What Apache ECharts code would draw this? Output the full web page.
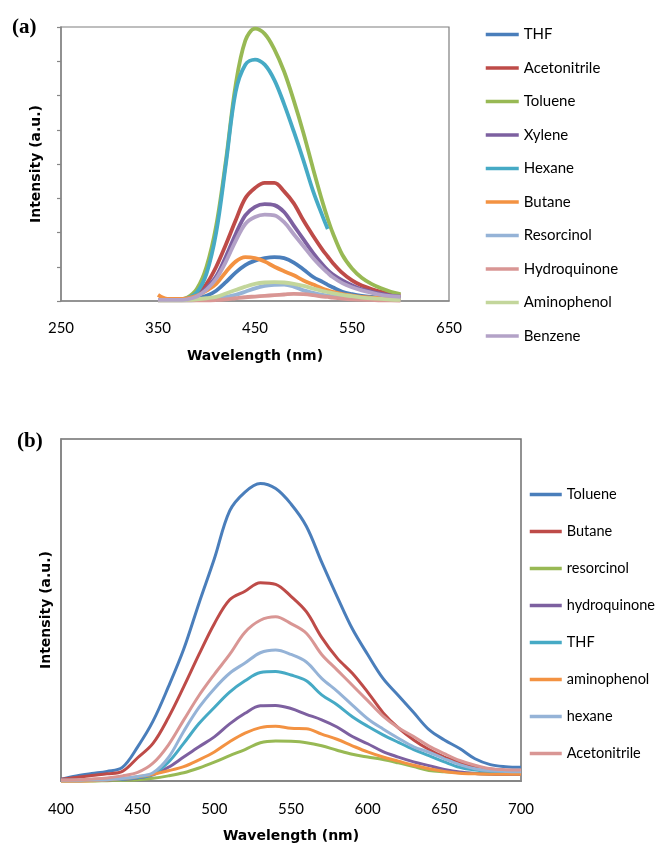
<!DOCTYPE html>
<html>
<head>
<meta charset="utf-8">
<script src="https://cdn.jsdelivr.net/npm/echarts@6/dist/echarts.min.js"></script>
<style>
  html, body { margin: 0; padding: 0; background: #fff; }
  #chart { width: 656px; height: 845px; }
</style>
</head>
<body>
<div id="chart"></div>
<script>
// ---------- Panel (a): emission spectra, 350-600 nm ----------
const waveA = [350, 360, 370, 380, 390, 400, 410, 420, 430, 440, 450, 460, 470, 480, 490, 500, 510, 520, 525, 530, 540, 550, 560, 570, 580, 590, 600];
const namesA = ['THF', 'Acetonitrile', 'Toluene', 'Xylene', 'Hexane', 'Butane', 'Resorcinol', 'Hydroquinone', 'Aminophenol', 'Benzene'];
const thfA = [0.03, 0.03, 0.03, 0.04, 0.08, 0.15, 0.3, 0.55, 0.83, 1.05, 1.18, 1.25, 1.28, 1.25, 1.12, 0.92, 0.7, 0.55, 0.47, 0.4, 0.27, 0.2, 0.15, 0.12, 0.1, 0.09, 0.08];
const acetonitrileA = [0.03, 0.03, 0.03, 0.06, 0.18, 0.5, 1.0, 1.65, 2.35, 3.0, 3.3, 3.45, 3.45, 3.2, 2.85, 2.35, 1.9, 1.48, 1.3, 1.12, 0.82, 0.6, 0.45, 0.35, 0.27, 0.21, 0.17];
const tolueneA = [0.03, 0.03, 0.04, 0.1, 0.35, 1.0, 2.2, 4.1, 6.3, 7.6, 7.95, 7.8, 7.35, 6.7, 5.85, 4.9, 3.85, 2.85, 2.4, 2.0, 1.35, 0.95, 0.68, 0.5, 0.37, 0.27, 0.2];
const xyleneA = [0.03, 0.03, 0.03, 0.05, 0.15, 0.38, 0.72, 1.3, 1.95, 2.5, 2.75, 2.83, 2.8, 2.6, 2.2, 1.8, 1.4, 1.05, 0.9, 0.78, 0.6, 0.46, 0.34, 0.27, 0.21, 0.16, 0.13];
const hexaneA = [0.03, 0.03, 0.04, 0.08, 0.25, 0.8, 2.0, 4.0, 6.1, 6.9, 7.05, 6.9, 6.45, 5.75, 4.95, 4.1, 3.2, 2.45, 2.1, null, null, null, null, null, null, null, null];
const butaneA = [0.18, 0.06, 0.06, 0.08, 0.15, 0.3, 0.5, 0.85, 1.15, 1.28, 1.25, 1.15, 1.0, 0.87, 0.75, 0.6, 0.48, 0.36, 0.31, 0.27, 0.2, 0.16, 0.12, 0.1, 0.08, 0.06, 0.05];
const resorcinolA = [0.02, 0.02, 0.02, 0.02, 0.03, 0.05, 0.08, 0.12, 0.18, 0.27, 0.37, 0.44, 0.47, 0.48, 0.42, 0.31, 0.24, 0.18, 0.16, 0.14, 0.12, 0.09, 0.07, 0.05, 0.04, 0.03, 0.03];
const hydroquinoneA = [0.02, 0.02, 0.02, 0.02, 0.02, 0.02, 0.03, 0.05, 0.08, 0.11, 0.13, 0.15, 0.17, 0.19, 0.21, 0.2, 0.17, 0.13, 0.12, 0.1, 0.07, 0.05, 0.04, 0.03, 0.02, 0.02, 0.01];
const aminophenolA = [0.02, 0.02, 0.02, 0.03, 0.05, 0.08, 0.12, 0.22, 0.32, 0.42, 0.5, 0.54, 0.55, 0.54, 0.5, 0.44, 0.36, 0.29, 0.26, 0.23, 0.18, 0.14, 0.1, 0.08, 0.06, 0.04, 0.03];
const benzeneA = [0.03, 0.03, 0.03, 0.05, 0.13, 0.33, 0.65, 1.15, 1.75, 2.25, 2.45, 2.52, 2.5, 2.3, 1.95, 1.6, 1.25, 0.95, 0.82, 0.7, 0.52, 0.4, 0.31, 0.24, 0.18, 0.14, 0.12];
const valuesA = [thfA, acetonitrileA, tolueneA, xyleneA, hexaneA, butaneA, resorcinolA, hydroquinoneA, aminophenolA, benzeneA];
const ticksA = [250, 350, 450, 550, 650];

// ---------- Panel (b): emission spectra, 400-700 nm ----------
const waveB = [400, 410, 420, 430, 440, 450, 460, 470, 480, 490, 500, 510, 520, 530, 540, 550, 560, 570, 580, 590, 600, 610, 620, 630, 640, 650, 660, 670, 680, 690, 700];
const namesB = ['Toluene', 'Butane', 'resorcinol', 'hydroquinone', 'THF', 'aminophenol', 'hexane', 'Acetonitrile'];
const tolueneB = [0.5, 1.5, 2.2, 2.8, 4.0, 10.0, 17.5, 27.5, 38.5, 52, 65, 79, 84.5, 87, 85.5, 81, 74.5, 64, 54, 44.5, 37, 30, 25, 20, 15, 12, 9.5, 6.5, 4.8, 4.2, 4.0];
const butaneB = [0.5, 1.0, 1.6, 2.1, 2.8, 6.8, 11, 18.5, 27.5, 37, 46, 53, 55.5, 58, 57.5, 54, 49.5, 42, 36, 31.5, 26, 20, 15.5, 12, 9.2, 7, 5.5, 4.2, 3.5, 3.1, 3.0];
const resorcinolB = [0, 0, 0, 0.1, 0.2, 0.4, 0.8, 1.5, 2.4, 3.8, 5.5, 7.4, 9.2, 11.2, 11.7, 11.6, 11.2, 10.3, 9, 7.8, 7, 6.3, 5.3, 4.2, 3.1, 2.7, 2.4, 2.2, 2.1, 2.0, 2.0];
const hydroquinoneB = [0.1, 0.1, 0.2, 0.3, 0.5, 0.9, 1.8, 4.0, 7.0, 10, 12.9, 16.7, 19.8, 22, 22.1, 21.2, 19.5, 17.9, 15.8, 13, 10.9, 8.6, 7, 5.6, 4.5, 3.4, 2.6, 2.2, 2.0, 1.9, 1.9];
const thfB = [0.2, 0.2, 0.3, 0.4, 0.6, 1.0, 2.0, 5.5, 11, 16.8, 21.5, 26, 29.3, 31.7, 32, 31, 29.3, 25.2, 22.3, 18.8, 16, 13.5, 11.3, 9.2, 7.4, 5.6, 4.0, 3.2, 2.8, 2.6, 2.5];
const aminophenolB = [0, 0, 0.1, 0.3, 0.7, 1.3, 2.0, 3.0, 4.2, 6.2, 8.5, 11.5, 14, 15.6, 16, 15.4, 15.3, 13.7, 12.2, 10.3, 8.5, 7, 5.8, 4.6, 3.6, 2.8, 2.3, 2.1, 2.0, 2.0, 2.0];
const hexaneB = [0.2, 0.2, 0.3, 0.4, 0.7, 1.3, 2.4, 6.8, 14.5, 21.5, 27, 31.5, 34.5, 37.5, 38.3, 37, 34.8, 30, 26.3, 22.2, 18.2, 15.2, 12.5, 10, 8.4, 6.5, 4.8, 3.6, 3.0, 2.8, 2.7];
const acetonitrileB = [0.3, 0.4, 0.6, 0.9, 1.5, 2.5, 5.2, 10.5, 17.8, 25, 31.2, 37, 43.5, 47, 48, 46, 43.2, 37, 32.5, 28, 23.5, 19, 15.6, 13, 10.2, 8, 6, 4.6, 3.6, 3.3, 3.2];
const valuesB = [tolueneB, butaneB, resorcinolB, hydroquinoneB, thfB, aminophenolB, hexaneB, acetonitrileB];
const ticksB = [400, 450, 500, 550, 600, 650, 700];

// Office-style series palette
const palette = ['#4A7EBB', '#BE4B48', '#98B954', '#7D60A0', '#46AAC5', '#F39242', '#95B3D7', '#D99694', '#C3D69B', '#B3A2C7'];

const AXIS_GRAY = '#868686';
const tickFont = { fontFamily: 'Lato', fontSize: 15, color: '#000' };
const nameFont = { fontFamily: 'DejaVu Sans', fontWeight: 'bold', fontSize: 14, color: '#000' };

// series names carry a panel prefix so both legends resolve to their own lines
const seriesA = namesA.map((n, i) => ({
  name: 'a|' + n,
  type: 'line',
  xAxisIndex: 0, yAxisIndex: 0,
  data: waveA.map((w, k) => [w, valuesA[i][k]]),
  smooth: 0.35,
  symbol: 'none',
  color: palette[i],
  lineStyle: { width: 3.8, color: palette[i] },
  clip: false
}));
const seriesB = namesB.map((n, i) => ({
  name: 'b|' + n,
  type: 'line',
  xAxisIndex: 1, yAxisIndex: 1,
  data: waveB.map((w, k) => [w, valuesB[i][k]]),
  smooth: 0.35,
  symbol: 'none',
  color: palette[i],
  lineStyle: { width: 3, color: palette[i] },
  clip: false
}));

const legendBase = {
  orient: 'vertical',
  padding: 0,
  formatter: n => n.split('|')[1],
  itemStyle: { opacity: 0 },
  lineStyle: { width: 3.5 },
  selectedMode: false
};

const chart = echarts.init(document.getElementById('chart'), null, { renderer: 'canvas' });
chart.setOption({
  animation: false,
  backgroundColor: '#fff',
  graphic: [
    { type: 'text', left: 12, top: 17, style: { text: '(a)', font: 'bold 21px "Liberation Serif"', fill: '#000' } },
    { type: 'text', left: 17, top: 431, style: { text: '(b)', font: 'bold 21px "Liberation Serif"', fill: '#000' } }
  ],
  grid: [
    { left: 61, top: 27, width: 388, height: 274, show: true, borderColor: '#7f7f7f', borderWidth: 1.2 },
    { left: 61, top: 439, width: 460, height: 342, show: true, borderColor: '#6f6f6f', borderWidth: 1.5 }
  ],
  xAxis: [
    {
      gridIndex: 0, type: 'value', min: ticksA[0], max: ticksA[ticksA.length - 1], interval: 100,
      axisLine: { show: true, onZero: false, lineStyle: { color: AXIS_GRAY, width: 1.5 } },
      axisTick: { show: false }, splitLine: { show: false },
      axisLabel: Object.assign({ margin: 20 }, tickFont),
      name: 'Wavelength (nm)', nameLocation: 'middle', nameGap: 48, nameTextStyle: nameFont
    },
    {
      gridIndex: 1, type: 'value', min: ticksB[0], max: ticksB[ticksB.length - 1], interval: 50,
      axisLine: { show: true, onZero: false, lineStyle: { color: AXIS_GRAY, width: 2 } },
      axisTick: { show: false }, splitLine: { show: false },
      axisLabel: Object.assign({ margin: 21 }, tickFont),
      name: 'Wavelength (nm)', nameLocation: 'middle', nameGap: 48, nameTextStyle: nameFont
    }
  ],
  yAxis: [
    {
      gridIndex: 0, type: 'value', min: 0, max: 8, interval: 1,
      axisLine: { show: true, lineStyle: { color: AXIS_GRAY, width: 1.5 } },
      axisTick: { show: true, inside: false, length: 4, lineStyle: { color: AXIS_GRAY, width: 1.2 } },
      axisLabel: { show: false }, splitLine: { show: false },
      name: 'Intensity (a.u.)', nameLocation: 'middle', nameGap: 18, nameTextStyle: nameFont
    },
    {
      gridIndex: 1, type: 'value', min: 0, max: 100, interval: 20,
      axisLine: { show: true, lineStyle: { color: AXIS_GRAY, width: 1.5 } },
      axisTick: { show: false },
      axisLabel: { show: false }, splitLine: { show: false },
      name: 'Intensity (a.u.)', nameLocation: 'middle', nameGap: 8, nameTextStyle: nameFont
    }
  ],
  legend: [
    Object.assign({}, legendBase, {
      left: 484, top: 27,
      data: seriesA.map(s => s.name),
      itemWidth: 33, itemHeight: 14, itemGap: 18.5,
      textStyle: { fontFamily: 'Lato', fontSize: 15, color: '#000' }
    }),
    Object.assign({}, legendBase, {
      left: 528, top: 487,
      data: seriesB.map(s => s.name),
      itemWidth: 32, itemHeight: 14, itemGap: 22,
      textStyle: { fontFamily: 'Lato', fontSize: 14.5, color: '#000' }
    })
  ],
  series: seriesA.concat(seriesB)
});
</script>
</body>
</html>
